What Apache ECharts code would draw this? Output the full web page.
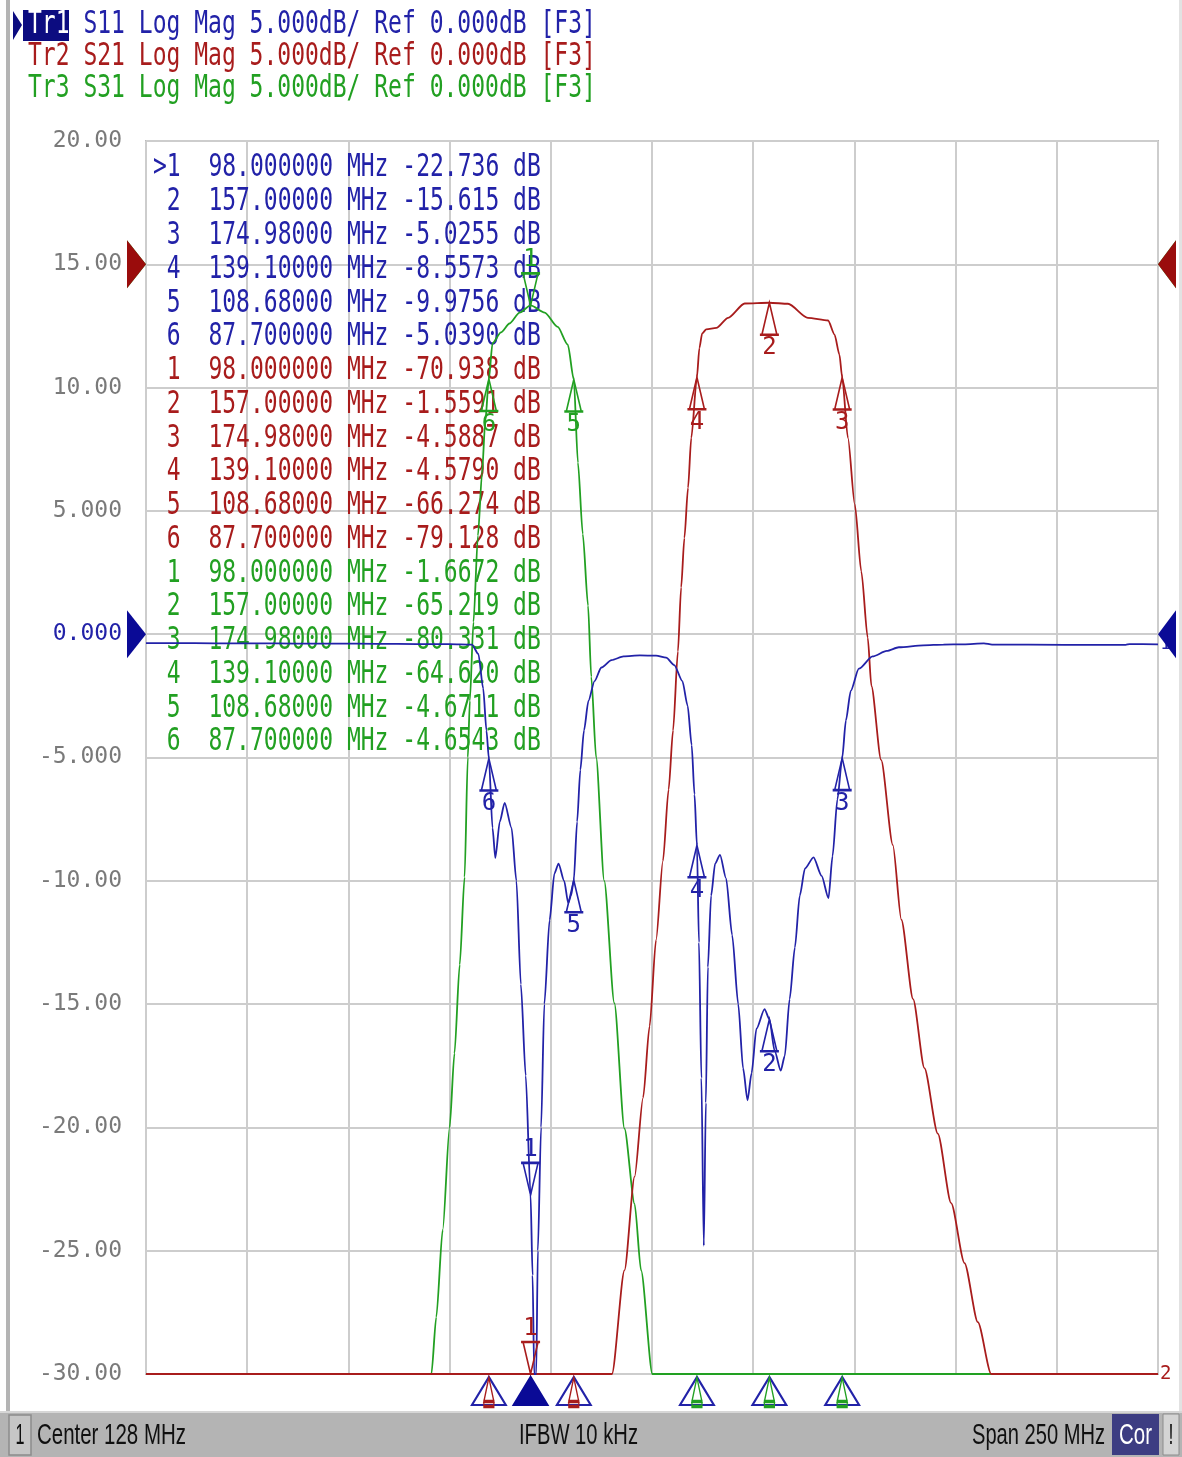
<!DOCTYPE html>
<html>
<head>
<meta charset="utf-8">
<script src="https://cdn.jsdelivr.net/npm/echarts@6/dist/echarts.min.js"></script>
<style>
html,body{margin:0;padding:0;background:#ffffff;}
#c{width:1182px;height:1457px;}
</style>
</head>
<body>
<div id="c"></div>
<script>
// ---------- stimulus / scale ----------
const CENTER_MHZ = 128;
const SPAN_MHZ = 250;
const START_MHZ = CENTER_MHZ - SPAN_MHZ / 2;   // 3
const STOP_MHZ = CENTER_MHZ + SPAN_MHZ / 2;    // 253
const DIVISIONS = 10;
const Y_MIN = -30, Y_MAX = 20, Y_STEP = 5;
const Y_TICK_LABELS = ['-30.00','-25.00','-20.00','-15.00','-10.00','-5.000','0.000','5.000','10.00','15.00','20.00'];

// reference position (display offset, dB) of each trace
const REF_POS = [0, 15, 15];

// ---------- header / status ----------
const TRACE_NAMES = ['Tr1', 'Tr2', 'Tr3'];
const TRACE_PARAMS = ['S11', 'S21', 'S31'];
const HEADER_REST = ' Log Mag 5.000dB/ Ref 0.000dB [F3]';
const STATUS_LEFT = 'Center 128 MHz';
const STATUS_MID = 'IFBW 10 kHz';
const STATUS_RIGHT = 'Span 250 MHz';

// ---------- trace data (MHz, dB) ----------
const S11_FREQ = [3,10,20,30,40,50,60,70,78,83.5,85.1,86.3,87.1,87.7,88.6,89.3,90.4,91.6,93.3,94.5,95.6,96.8,98,98.5,98.9,99.4,99.8,100.6,101.4,102.7,103.9,104.9,106.3,107.3,108,108.68,109.5,110.3,111.2,112.3,113.8,115.5,118,121,125,129,131.5,133.5,135.5,136.8,137.8,138.5,139.1,139.6,140.2,140.8,141.3,141.8,142.6,143.6,144.8,146.3,147.8,149.3,150.5,151.6,152.6,153.8,155.8,157,158.3,159.8,160.8,162,163.3,164.5,165.8,167.9,169.9,171.6,172.6,173.8,174.98,175.9,177.1,179.1,182.5,186,189,195,200,205,210,212,230,245,246,253];
const S11_DB   = [-0.36,-0.36,-0.37,-0.37,-0.38,-0.38,-0.39,-0.4,-0.4,-0.42,-0.8,-2.2,-3.9,-5.039,-7.85,-9.07,-7.6,-6.84,-7.85,-10,-14.2,-17.9,-22.736,-26,-30,-30,-25,-20,-15,-11.6,-9.7,-9.3,-10.0,-10.9,-10.6,-9.9756,-7.6,-5.5,-3.9,-2.7,-1.9,-1.35,-1.05,-0.9,-0.86,-0.87,-0.95,-1.25,-1.9,-2.9,-4.5,-6.5,-8.5573,-12.5,-18,-24.8,-19,-13.5,-10.6,-9.3,-8.95,-9.9,-12.2,-15.0,-17.6,-18.9,-17.8,-16.0,-15.2,-15.615,-16.9,-17.7,-17.1,-14.8,-12.7,-10.6,-9.5,-9.05,-9.8,-10.7,-9.0,-6.7,-5.0255,-3.5,-2.3,-1.4,-0.9,-0.68,-0.53,-0.45,-0.42,-0.41,-0.37,-0.42,-0.43,-0.43,-0.4,-0.41];

const S21_FREQ = [3,30,60,80,87.7,98,108.68,114,118.1,121.2,123.7,125.8,127.4,129,130.7,132.1,133.2,134.4,135.2,136,136.9,137.7,139.1,139.7,140.4,141.4,143.9,146.8,150.9,157,161.6,166.5,171.5,173.1,174.3,174.98,176.4,178.1,179.7,181.3,182.2,184.6,187.5,189.6,192.5,195.3,198.6,201.9,205.2,208.5,211.8,220,235,253];
const S21_DB   = [-85,-88,-86,-82,-79.128,-70.938,-66.274,-55,-45,-40.8,-37,-33.8,-30.9,-27.4,-24.2,-21.3,-18.9,-15.7,-13.1,-11.1,-9.07,-7.04,-4.579,-3.4,-2.8,-2.64,-2.58,-2.17,-1.59,-1.5591,-1.6,-2.17,-2.28,-2.85,-3.66,-4.5887,-7.04,-9.74,-12.45,-15.15,-17.1,-20.1,-23.55,-26.58,-29.8,-32.6,-35.25,-38.07,-40.5,-42.9,-45,-55,-65,-72];

const S31_FREQ = [3,30,55,68,73.5,74.7,76.3,78,79.2,80.5,81.7,82.5,83,83.9,85,86,86.8,87.7,88.6,90.7,92.8,95.3,98,101.5,104.7,107.2,108.68,109.7,110.9,112.2,113,114.2,116.2,118.7,121.2,123.7,125.3,128.1,139.1,157,174.98,210,253];
const S31_DB   = [-85,-82,-70,-55,-45,-42.7,-39.15,-35,-32,-28.4,-24.85,-20,-17.7,-14.5,-11,-8.5,-6.4,-4.6543,-3.2,-2.76,-2.4,-1.96,-1.6672,-1.96,-2.54,-3.26,-4.6711,-8.04,-10.94,-13.84,-16.73,-20,-25,-29.96,-35.05,-38.1,-40.8,-45,-64.62,-65.219,-80.331,-82,-86];

// ---------- markers ----------
const MARKER_FREQ = [98, 157, 174.98, 139.1, 108.68, 87.7];
const S11_MARKER_DB = [-22.736, -15.615, -5.0255, -8.5573, -9.9756, -5.0390];
const S21_MARKER_DB = [-70.938, -1.5591, -4.5887, -4.5790, -66.274, -79.128];
const S31_MARKER_DB = [-1.6672, -65.219, -80.331, -64.620, -4.6711, -4.6543];

const BLUE = '#2222a8', RED = '#a81c1c', GREEN = '#22a022', GREY = '#7a7a7a', NAVY = '#0c0c80';
const COLORS = [BLUE, RED, GREEN];
const MONO = '"DejaVu Sans Mono", "Liberation Mono", monospace';
const CW = 13.85;        // monospace char width
const STRETCH = 1.42;    // vertical stretch of the analyser font

const chart = echarts.init(document.getElementById('c'));

function traceData(freq, db, off) {
  return freq.map((f, i) => [f, Math.max(db[i] + off, Y_MIN)]);
}

const UP = 'path://M9.5,0 L2,32 L17,32 Z M0,32 L19,32';
const DOWN = 'path://M0,0 L19,0 M2,0 L17,0 L9.5,32 Z';

function markerItems(mk, off) {
  const out = [];
  mk.forEach((v, i) => {
    const d = v + off;
    const active = i === 0;
    if (d < Y_MIN && !active) return;
    out.push({
      name: String(i + 1),
      value: [MARKER_FREQ[i], Math.max(d, Y_MIN)],
      symbol: active ? DOWN : UP,
      symbolOffset: [0, active ? -16 : 16],
      label: { position: active ? 'top' : 'bottom' }
    });
  });
  return out;
}

function markerSeries(mk, off, color) {
  return {
    type: 'scatter', xAxisIndex: 1, yAxisIndex: 0, z: 6, silent: true,
    symbolSize: [19, 32],
    itemStyle: { color: 'rgba(255,255,255,0)', borderColor: color, borderWidth: 2, opacity: 1 },
    label: { show: true, formatter: '{b}', color: color, fontFamily: MONO, fontSize: 24, distance: 0 },
    data: markerItems(mk, off)
  };
}

// stimulus indicators under the grid (active trace = Tr1)
const stimItems = MARKER_FREQ.map((f, i) => ({
  value: [f, Y_MIN],
  itemStyle: i === 0 ? { color: '#0a0a96', borderColor: '#0a0a96', opacity: 1 } : { color: 'rgba(255,255,255,0)', borderColor: BLUE, opacity: 1 }
}));
function offscaleItems(mk, off) {
  const out = [];
  mk.forEach((v, i) => { if (v + off < Y_MIN && i !== 0) out.push({ value: [MARKER_FREQ[i], Y_MIN] }); });
  return out;
}
const INNER = 'path://M5,0 L1,24 L9,24 Z M1,24 L9,24 L9,29 L1,29 Z';

function lineSeries(name, freq, db, off, color, z, endText) {
  return {
    name: name, type: 'line', xAxisIndex: 1, yAxisIndex: 0, z: z,
    showSymbol: false, symbol: 'none', smooth: 0.25, smoothMonotone: 'x',
    lineStyle: { color: color, width: 1.8 }, itemStyle: { color: color },
    animation: false, silent: true,
    endLabel: { show: !!endText, formatter: endText || '', color: color, fontFamily: MONO, fontSize: 19, distance: 2 },
    data: traceData(freq, db, off)
  };
}

const option = {
  animation: false,
  backgroundColor: '#ffffff',
  grid: { left: 146, right: 24, top: 141, bottom: 83, show: true, borderColor: '#858585', borderWidth: 1.5, backgroundColor: 'rgba(0,0,0,0)' },
  xAxis: [
    { type: 'value', min: 0, max: DIVISIONS, interval: 1,
      axisLine: { show: false }, axisTick: { show: false }, axisLabel: { show: false },
      splitLine: { show: true, lineStyle: { color: '#cdcdcd', width: 2 } } },
    { type: 'value', min: START_MHZ, max: STOP_MHZ, show: false, splitLine: { show: false } }
  ],
  yAxis: [{
    type: 'value', min: Y_MIN, max: Y_MAX, interval: Y_STEP,
    axisLine: { show: false }, axisTick: { show: false },
    splitLine: { show: true, lineStyle: { color: '#cdcdcd', width: 2 } },
    axisLabel: {
      margin: 24, fontFamily: MONO, fontSize: 23,
      color: function (v) { return Math.abs(v) < 1e-9 ? BLUE : GREY; },
      formatter: function (v) { return Y_TICK_LABELS[Math.round((v - Y_MIN) / Y_STEP)]; }
    }
  }],
  series: [
    lineSeries('S31', S31_FREQ, S31_DB, REF_POS[2], GREEN, 3, ''),
    lineSeries('S21', S21_FREQ, S21_DB, REF_POS[1], RED, 4, '2'),
    lineSeries('S11', S11_FREQ, S11_DB, REF_POS[0], BLUE, 5, '1'),
    markerSeries(S31_MARKER_DB, REF_POS[2], GREEN),
    markerSeries(S21_MARKER_DB, REF_POS[1], RED),
    markerSeries(S11_MARKER_DB, REF_POS[0], BLUE),
    { type: 'scatter', xAxisIndex: 1, yAxisIndex: 0, z: 6, silent: true, clip: false,
      symbol: 'triangle', symbolSize: [34, 28], symbolOffset: [0, 17],
      itemStyle: { borderWidth: 2, opacity: 1 }, data: stimItems },
    { type: 'scatter', xAxisIndex: 1, yAxisIndex: 0, z: 7, silent: true, clip: false,
      symbol: INNER, symbolSize: [10, 29], symbolOffset: [0, 18],
      itemStyle: { color: 'rgba(255,255,255,0)', borderColor: RED, borderWidth: 2, opacity: 1 },
      data: offscaleItems(S21_MARKER_DB, REF_POS[1]) },
    { type: 'scatter', xAxisIndex: 1, yAxisIndex: 0, z: 7, silent: true, clip: false,
      symbol: INNER, symbolSize: [10, 29], symbolOffset: [0, 18],
      itemStyle: { color: 'rgba(255,255,255,0)', borderColor: GREEN, borderWidth: 2, opacity: 1 },
      data: offscaleItems(S31_MARKER_DB, REF_POS[2]) }
  ]
};
chart.setOption(option);

// ---------- graphics: header, marker table, ref triangles, status bar ----------
const mctx = document.createElement('canvas').getContext('2d');
function measure(text, font) { mctx.font = font; return mctx.measureText(text).width; }

function monoText(text, x, y, color, z) {
  const font = '23px ' + MONO;
  const w = measure(text, font);
  const sx = w > 0 ? (text.length * CW) / w : 1;
  return { type: 'text', x: x, y: y, scaleX: sx, scaleY: STRETCH, z: z || 10, silent: true,
    style: { text: text, fill: color, font: font, textAlign: 'left', textVerticalAlign: 'middle', align: 'left', verticalAlign: 'middle' } };
}

const g = [];
// window frame
g.push({ type: 'rect', shape: { x: 6, y: 0, width: 4, height: 1411 }, style: { fill: '#b4b4b4' }, silent: true });
g.push({ type: 'rect', shape: { x: 1179, y: 0, width: 3, height: 1411 }, style: { fill: '#e2e2e2' }, silent: true });

// header
const HY = [25, 57, 89];
g.push({ type: 'polygon', shape: { points: [[13, 11], [22, 25], [13, 40]] }, style: { fill: NAVY }, silent: true });
g.push({ type: 'rect', shape: { x: 23, y: 10, width: 46, height: 31 }, style: { fill: NAVY }, silent: true });
TRACE_NAMES.forEach((t, i) => {
  g.push(monoText(t, 28, HY[i], i === 0 ? '#ffffff' : COLORS[i], 11));
  g.push(monoText(' ' + TRACE_PARAMS[i] + HEADER_REST, 28 + 3 * CW, HY[i], COLORS[i], 11));
});

// marker table
const MARKERS = [S11_MARKER_DB, S21_MARKER_DB, S31_MARKER_DB];
let row = 0;
MARKERS.forEach((mk, t) => {
  mk.forEach((v, i) => {
    const pre = (t === 0 && i === 0) ? '>1' : ' ' + (i + 1);
    const txt = pre + '  ' + MARKER_FREQ[i].toPrecision(8) + ' MHz ' + v.toPrecision(5) + ' dB';
    g.push(monoText(txt, 153, 168 + row * 33.76, COLORS[t], 1));
    row++;
  });
});

// reference-position triangles
const gl = 146, gr = 1182 - 24;
[2, 1, 0].forEach(t => {
  const y = chart.convertToPixel({ yAxisIndex: 0 }, REF_POS[t]);
  const fill = t === 1 ? '#9a0c0c' : (t === 0 ? '#0a0a96' : GREEN);
  g.push({ type: 'polygon', z: 12, silent: true, shape: { points: [[127, y - 24], [gl, y], [127, y + 24]] }, style: { fill: fill } });
  g.push({ type: 'polygon', z: 12, silent: true, shape: { points: [[gr + 18, y - 24], [gr, y], [gr + 18, y + 24]] }, style: { fill: fill } });
});

// status bar
const SB_Y = 1411, SB_H = 46, SB_MID = 1436;
const SFONT = '29px "Liberation Sans Narrow", "Liberation Sans", Arial, sans-serif';
function sText(text, x, align, targetW, color) {
  const w = measure(text, SFONT);
  const sx = w > 0 ? targetW / w : 1;
  return { type: 'text', x: x, y: SB_MID, scaleX: sx, scaleY: 1.0, z: 21, silent: true,
    style: { text: text, fill: color || '#101010', font: SFONT, textAlign: align, textVerticalAlign: 'middle', align: align, verticalAlign: 'middle' } };
}
g.push({ type: 'rect', z: 20, silent: true, shape: { x: 0, y: SB_Y, width: 1182, height: SB_H }, style: { fill: '#b4b4b4' } });
g.push({ type: 'rect', z: 20, silent: true, shape: { x: 0, y: SB_Y, width: 1182, height: 2 }, style: { fill: '#d6d6d6' } });
g.push({ type: 'rect', z: 20, silent: true, shape: { x: 9, y: SB_Y + 4, width: 22, height: 40 }, style: { fill: '#c6c6c6', stroke: '#8c8c8c', lineWidth: 1.5 } });
g.push(sText('1', 20, 'center', 9));
g.push(sText(STATUS_LEFT, 37, 'left', 149));
g.push(sText(STATUS_MID, 519, 'left', 119));
g.push(sText(STATUS_RIGHT, 1105, 'right', 133));
g.push({ type: 'rect', z: 20, silent: true, shape: { x: 1112, y: SB_Y + 3, width: 47, height: 41 }, style: { fill: '#3d3d82' } });
g.push(sText('Cor', 1135.5, 'center', 33, '#ffffff'));
g.push({ type: 'rect', z: 20, silent: true, shape: { x: 1163, y: SB_Y + 3, width: 16, height: 41 }, style: { fill: '#d4d4d4', stroke: '#8c8c8c', lineWidth: 1 } });
g.push(sText('!', 1171, 'center', 5));

chart.setOption({ graphic: g });
</script>
</body>
</html>
